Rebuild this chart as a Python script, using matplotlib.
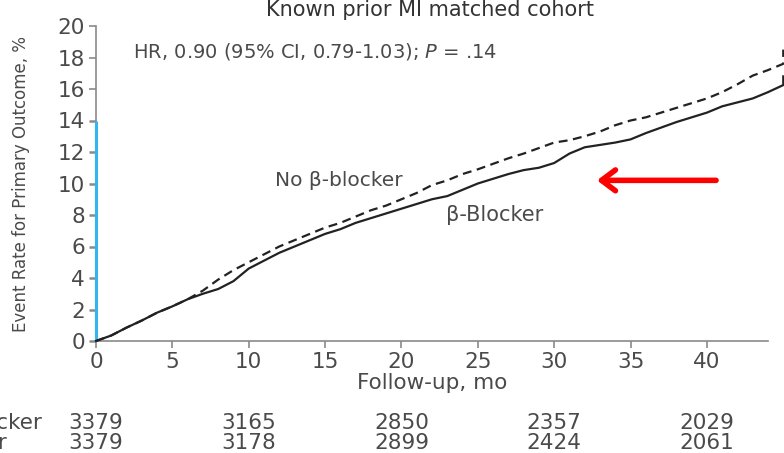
import matplotlib
matplotlib.use("Agg")
import matplotlib.pyplot as plt
import matplotlib.transforms as mtransforms

# ---------------- data ----------------
months = list(range(0, 46)) + [45]
no_bb = [0, 0.35, 0.85, 1.3, 1.8, 2.2, 2.65, 3.2, 3.9, 4.5,
         5.0, 5.5, 6.0, 6.4, 6.8, 7.2, 7.5, 7.9, 8.3, 8.6,
         9.0, 9.4, 9.9, 10.2, 10.6, 10.9, 11.25, 11.6, 11.9, 12.25,
         12.6, 12.75, 13.0, 13.3, 13.7, 14.0, 14.2, 14.5, 14.8, 15.1,
         15.4, 15.8, 16.3, 16.85, 17.2, 17.6, 18.5]
bb = [0, 0.35, 0.85, 1.3, 1.8, 2.2, 2.65, 3.0, 3.3, 3.8,
      4.6, 5.1, 5.6, 6.0, 6.4, 6.8, 7.1, 7.5, 7.8, 8.1,
      8.4, 8.7, 9.0, 9.2, 9.6, 10.0, 10.3, 10.6, 10.85, 11.0,
      11.3, 11.9, 12.3, 12.45, 12.6, 12.8, 13.2, 13.55, 13.9, 14.2,
      14.5, 14.9, 15.15, 15.4, 15.8, 16.25, 16.8]

risk_months = [0, 10, 20, 30, 40]
risk_bb = ["3379", "3165", "2850", "2357", "2029"]
risk_no_bb = ["3379", "3178", "2899", "2424", "2061"]

xticks = [0, 5, 10, 15, 20, 25, 30, 35, 40]
yticks = [0, 2, 4, 6, 8, 10, 12, 14, 16, 18, 20]

title = "Known prior MI matched cohort"
hr_text = r"HR, 0.90 (95% CI, 0.79-1.03); $\mathit{P}$ = .14"
xlabel = "Follow-up, mo"
ylabel = "Event Rate for Primary Outcome, %"

# ---------------- style ----------------
plt.rcParams['font.family'] = ['DejaVu Sans']
plt.rcParams['mathtext.fontset'] = 'dejavusans'
TXT = '#4a4a4a'
AX = '#8a8a8a'
BLUE = '#33b5f0'

fig = plt.figure(figsize=(7.84, 4.53), dpi=100)
ax = fig.add_axes([96/784, 1-341/453, (768-96)/784, (341-26)/453])

ax.plot(months, no_bb, color='#222222', lw=1.6, ls=(0, (4, 2.5)), clip_on=False, zorder=4)
ax.plot(months, bb, color='#222222', lw=1.6, clip_on=False, zorder=4)

ax.set_xlim(0, 44)
ax.set_ylim(0, 20)
ax.set_xticks(xticks)
ax.set_yticks(yticks)

for s in ['top', 'right']:
    ax.spines[s].set_visible(False)
ax.spines['bottom'].set_color(AX)
ax.spines['bottom'].set_linewidth(1.2)
ax.spines['left'].set_color(AX)
ax.spines['left'].set_linewidth(1.2)
ax.spines['left'].set_bounds(14, 20)
ax.plot([0, 0], [0, 14], color=BLUE, lw=2.2, clip_on=False, zorder=3,
        solid_capstyle='butt')

ax.tick_params(axis='both', colors=AX, length=5, width=1.2, labelsize=15.5,
               labelcolor=TXT, pad=3)
for t, v in zip(ax.yaxis.get_major_ticks(), yticks):
    if v <= 14:
        t.tick1line.set_color(BLUE)
        t.tick1line.set_markeredgewidth(1.8)

fig.text(430/784, 1-10/453, title, ha='center', va='center', fontsize=15,
         color='#333333')
ax.text(2.4, 18.4, hr_text, ha='left', va='center', fontsize=14, color=TXT)
ax.text(11.7, 10.2, "No β-blocker", ha='left', va='center', fontsize=14.5, color=TXT)
ax.text(22.9, 8.0, "β-Blocker", ha='left', va='center', fontsize=15, color=TXT)

ax.set_xlabel(xlabel, fontsize=15.5, color=TXT)
ax.xaxis.set_label_coords(0.5, -(383-341)/315 + 0.0)
ax.xaxis.label.set_va('center')
ax.set_ylabel(ylabel, fontsize=12, color=TXT)
ax.yaxis.set_label_coords((30-96)/672, (341-184)/315)

ax.annotate('', xy=(32.8, 10.2), xytext=(40.6, 10.2),
            arrowprops=dict(arrowstyle='->,head_length=1.0,head_width=0.75',
                            color='#ff0000', lw=4, capstyle='round',
                            joinstyle='round', shrinkA=0, shrinkB=0))

trans = mtransforms.blended_transform_factory(ax.transData, fig.transFigure)
for m, a, b in zip(risk_months, risk_bb, risk_no_bb):
    ax.text(m, 1-423/453, a, transform=trans, ha='center', va='center',
            fontsize=15.5, color=TXT, clip_on=False)
    ax.text(m, 1-443/453, b, transform=trans, ha='center', va='center',
            fontsize=15.5, color=TXT, clip_on=False)
fig.text(42/784, 1-423/453, "β-Blocker", ha='right', va='center',
         fontsize=15.5, color=TXT)
fig.text(7/784, 1-443/453, "No β-blocker", ha='right', va='center',
         fontsize=15.5, color=TXT)

fig.savefig("out.png", dpi=100)
